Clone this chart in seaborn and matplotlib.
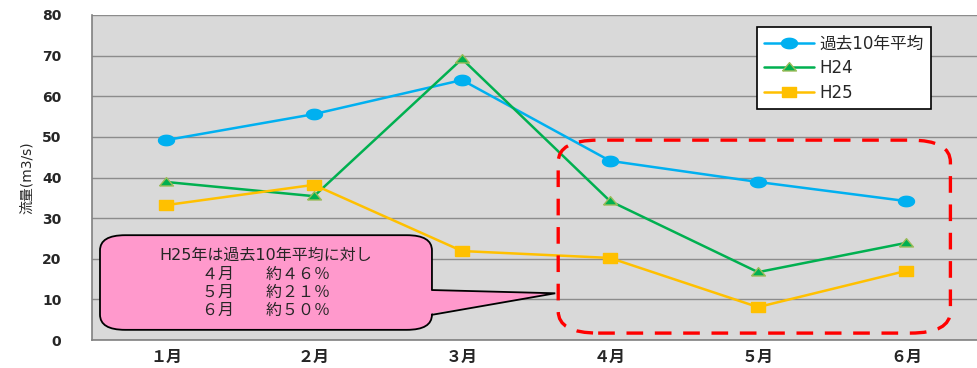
import matplotlib
matplotlib.use("Agg")
import matplotlib.pyplot as plt
from matplotlib.patches import FancyBboxPatch, Polygon
from matplotlib.path import Path
import numpy as np
import seaborn as sns
import pandas as pd

months = ["１月", "２月", "３月", "４月", "５月", "６月"]
avg10 = [49.2, 55.6, 64.0, 44.1, 38.9, 34.2]
h24 = [38.9, 35.4, 69.2, 34.2, 16.7, 23.9]
h25 = [33.2, 38.2, 21.9, 20.2, 8.1, 17.0]
series_names = ["過去10年平均", "H24", "H25"]
callout_lines = ["H25年は過去10年平均に対し", "４月　　約４６％", "５月　　約２１％", "６月　　約５０％"]

sns.set_theme(style="white")
plt.rcParams["font.family"] = ["DejaVu Sans", "Noto Sans CJK JP"]

# the source picture is stretched sideways, so the markers are too
t = np.linspace(0, 2 * np.pi, 60)
ellipse = Path(np.column_stack([np.cos(t), 0.65 * np.sin(t)]))
wide_tri = Path([(-1, -0.5), (1, -0.5), (0, 0.7), (-1, -0.5)])
wide_sq = Path([(-1, -0.72), (1, -0.72), (1, 0.72), (-1, 0.72), (-1, -0.72)])

fig = plt.figure(figsize=(9.78, 3.68), dpi=100)
ax = fig.add_axes([92 / 978, 28 / 368, 888 / 978, 325 / 368])
ax.set_facecolor("#D9D9D9")

x = list(range(len(months)))
styles = [
    (avg10, "#00B0F0", ellipse, 11.5, "#00B0F0"),
    (h24, "#00B050", wide_tri, 10, "#9BBB59"),
    (h25, "#FFC000", wide_sq, 10, "#FFC000"),
]
for name, (vals, col, mk, ms, mec) in zip(series_names, styles):
    df = pd.DataFrame({"x": x, "y": vals})
    sns.lineplot(data=df, x="x", y="y", ax=ax, color=col, marker=mk, markersize=ms,
                 markeredgecolor=mec, markeredgewidth=1, linewidth=1.8, sort=False,
                 label=name, zorder=3)

ax.set_xlim(-0.5, len(months) - 0.5)
ax.set_ylim(0, 80)
ax.set_yticks(range(0, 81, 10))
ax.yaxis.grid(True, color="#8C8C8C", linewidth=1)
ax.set_axisbelow(True)
ax.set_xticks(x)
ax.set_xticklabels(months, fontsize=11.5, fontweight="bold")
ax.set_xticks([i - 0.5 for i in range(len(months) + 1)], minor=True)
ax.tick_params(axis="x", which="major", length=0, pad=7)
ax.tick_params(axis="x", which="minor", length=6, color="#808080", width=1, direction="out")
ax.tick_params(axis="y", length=6, color="#808080", width=1, direction="out", labelsize=10, pad=16)
for lab in ax.get_yticklabels():
    lab.set_fontweight("bold")
ax.set_xlabel("")
ax.set_ylabel("流量(m3/s)", fontsize=10, labelpad=6)
for s in ["top", "right"]:
    ax.spines[s].set_visible(False)
for s in ["left", "bottom"]:
    ax.spines[s].set_color("#808080")
    ax.spines[s].set_linewidth(1.2)

leg = ax.legend(loc="upper left", bbox_to_anchor=(757 / 978, 1 - 27 / 368),
                bbox_transform=fig.transFigure, prop={"size": 12},
                frameon=True, fancybox=False, borderpad=0.45, labelspacing=0.4,
                handlelength=3.0, handletextpad=0.3, borderaxespad=0)
leg.get_frame().set_edgecolor("black")
leg.get_frame().set_linewidth(1.2)
leg.get_frame().set_facecolor("white")
leg.get_frame().set_alpha(1)

# red dashed rounded frame around Apr-Jun
frame = FancyBboxPatch((2.65, 1.7), 2.65, 47.5,
                       boxstyle="round,pad=0,rounding_size=0.27", mutation_aspect=20,
                       facecolor="none", edgecolor="#FF0000", linewidth=2.4,
                       linestyle=(0, (5, 3.5)), zorder=4, clip_on=False)
ax.add_patch(frame)

# pink callout
bx0, bx1, by0, by1 = -0.446, 1.797, 2.5, 25.8
box = FancyBboxPatch((bx0, by0), bx1 - bx0, by1 - by0,
                     boxstyle="round,pad=0,rounding_size=0.17", mutation_aspect=22,
                     facecolor="#FF99CC", edgecolor="black", linewidth=1.3, zorder=5)
ax.add_patch(box)
tip = (2.63, 11.5)
ptop, pbot = (bx1, 12.3), (bx1, 6.2)
ax.add_patch(Polygon([(bx1 - 0.05, ptop[1]), tip, (bx1 - 0.05, pbot[1])], closed=True,
                     facecolor="#FF99CC", edgecolor="none", zorder=6))
ax.plot([ptop[0], tip[0], pbot[0]], [ptop[1], tip[1], pbot[1]], color="black",
        linewidth=1.3, zorder=7, solid_joinstyle="miter")
cx = (bx0 + bx1) / 2
ax.text(cx, 20.9, callout_lines[0], ha="center", va="center", fontsize=11.5, zorder=8)
for i, line in enumerate(callout_lines[1:]):
    ax.text(cx, 16.2 - i * 4.4, line, ha="center", va="center", fontsize=11.5, zorder=8)

fig.savefig("out.png", dpi=100)
